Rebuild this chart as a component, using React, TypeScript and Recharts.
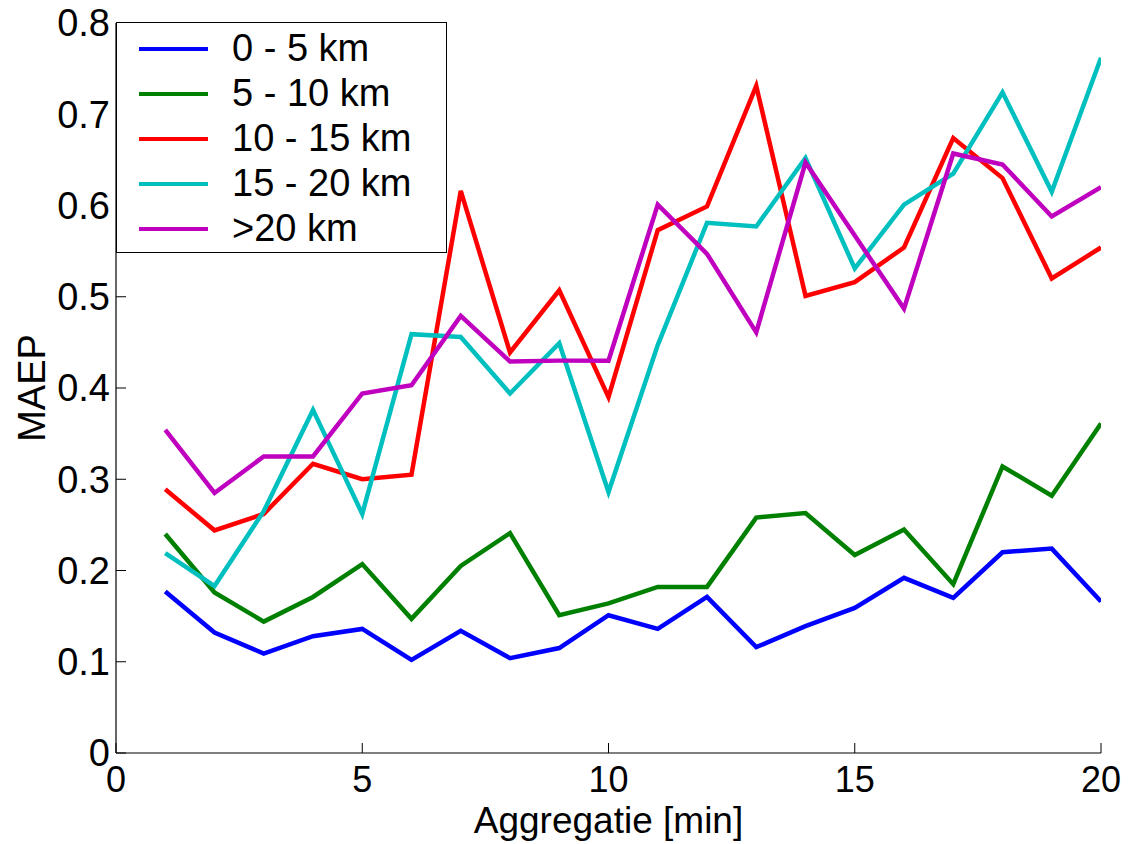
import React from 'react';
import { LineChart, Line, XAxis, YAxis, Legend } from 'recharts';

const xValues = [1, 2, 3, 4, 5, 6, 7, 8, 9, 10, 11, 12, 13, 14, 15, 16, 17, 18, 19, 20];
const km0to5 = [0.177, 0.132, 0.109, 0.128, 0.136, 0.102, 0.134, 0.104, 0.115, 0.151, 0.136, 0.171, 0.116, 0.139, 0.159, 0.192, 0.170, 0.220, 0.224, 0.166];
const km5to10 = [0.240, 0.176, 0.144, 0.171, 0.207, 0.147, 0.205, 0.241, 0.151, 0.164, 0.182, 0.182, 0.258, 0.263, 0.217, 0.245, 0.185, 0.314, 0.282, 0.361];
const km10to15 = [0.289, 0.244, 0.262, 0.317, 0.300, 0.305, 0.616, 0.439, 0.507, 0.390, 0.573, 0.599, 0.731, 0.501, 0.516, 0.554, 0.674, 0.630, 0.520, 0.554];
const km15to20 = [0.219, 0.183, 0.265, 0.376, 0.262, 0.459, 0.456, 0.394, 0.449, 0.286, 0.447, 0.581, 0.577, 0.652, 0.531, 0.601, 0.635, 0.724, 0.615, 0.762];
const kmOver20 = [0.354, 0.285, 0.325, 0.325, 0.394, 0.403, 0.479, 0.429, 0.430, 0.430, 0.601, 0.547, 0.461, 0.647, 0.567, 0.487, 0.657, 0.645, 0.588, 0.620];

const seriesNames = ['0 - 5 km', '5 - 10 km', '10 - 15 km', '15 - 20 km', '>20 km'];
const seriesColors = ['#0000ff', '#008000', '#ff0000', '#00bfbf', '#bf00bf'];
const seriesKeys = ['a', 'b', 'c', 'd', 'e'];
const seriesValues = [km0to5, km5to10, km10to15, km15to20, kmOver20];

const xTicks = [0, 5, 10, 15, 20];
const yTicks = [0, 0.1, 0.2, 0.3, 0.4, 0.5, 0.6, 0.7, 0.8];
const yTickLabels = ['0', '0.1', '0.2', '0.3', '0.4', '0.5', '0.6', '0.7', '0.8'];

const data = xValues.map((x, i) => {
  const row: Record<string, number> = { x };
  seriesKeys.forEach((k, s) => {
    row[k] = seriesValues[s][i];
  });
  return row;
});

const FONT = '"Liberation Sans", Arial, Helvetica, sans-serif';

const YLabel = (props: any) => {
  const vb = props.viewBox || { x: 0, y: 23, width: 116, height: 730 };
  const cx = vb.x + 45;
  const cy = vb.y + vb.height / 2;
  return (
    <text
      x={cx}
      y={cy}
      transform={`rotate(-90 ${cx} ${cy})`}
      textAnchor="middle"
      fill="#000"
      fontSize={38}
      fontFamily={FONT}
    >
      MAEP
    </text>
  );
};

const LegendBox = (props: any) => {
  const payload = [...(props.payload || [])].sort(
    (a: any, b: any) => seriesNames.indexOf(a.value) - seriesNames.indexOf(b.value)
  );
  return (
    <div
      style={{
        boxSizing: 'border-box',
        width: 331,
        height: 231,
        border: '1.5px solid #000',
        background: '#fff',
        paddingTop: 3,
        fontFamily: FONT,
        fontSize: 38,
        color: '#000',
      }}
    >
      {payload.map((p: any) => (
        <div key={p.value} style={{ height: 45, display: 'flex', alignItems: 'center' }}>
          <div style={{ width: 22 }} />
          <div style={{ width: 69, height: 4, background: p.color }} />
          <div style={{ width: 24 }} />
          <span style={{ lineHeight: '45px', whiteSpace: 'nowrap' }}>{p.value}</span>
        </div>
      ))}
    </div>
  );
};

export default function App() {
  return (
    <div style={{ position: 'absolute', left: 0, top: 0, width: 1128, height: 844, background: '#fff' }}>
      <LineChart
        width={1128}
        height={844}
        data={data}
        margin={{ top: 23, right: 27, bottom: 0, left: 0 }}
        style={{ fontFamily: FONT }}
      >
        <XAxis
          dataKey="x"
          type="number"
          domain={[0, 20]}
          ticks={xTicks}
          allowDataOverflow
          height={91}
          tickSize={-10}
          tickMargin={23}
          axisLine={{ stroke: '#000', strokeWidth: 1.2 }}
          tickLine={{ stroke: '#000', strokeWidth: 1 }}
          tick={{ fill: '#000', fontSize: 36, fontFamily: FONT }}
          label={{ value: 'Aggregatie [min]', position: 'insideBottom', offset: 11, fill: '#000', fontSize: 37, fontFamily: FONT }}
        />
        <XAxis
          xAxisId="top"
          orientation="top"
          dataKey="x"
          type="number"
          domain={[0, 20]}
          ticks={xTicks}
          allowDataOverflow
          height={0}
          tickSize={-10}
          tick={false}
          axisLine={{ stroke: '#000', strokeWidth: 1.2 }}
          tickLine={{ stroke: '#000', strokeWidth: 1 }}
        />
        <YAxis
          type="number"
          domain={[0, 0.8]}
          ticks={yTicks}
          allowDataOverflow
          width={116}
          tickSize={-10}
          tickMargin={16}
          interval={0}
          tickFormatter={(v: number) => yTickLabels[yTicks.indexOf(v)] ?? String(v)}
          axisLine={{ stroke: '#000', strokeWidth: 1.2 }}
          tickLine={{ stroke: '#000', strokeWidth: 1 }}
          tick={{ fill: '#000', fontSize: 38, fontFamily: FONT }}
          label={<YLabel />}
        />
        <YAxis
          yAxisId="right"
          orientation="right"
          type="number"
          domain={[0, 0.8]}
          ticks={yTicks}
          allowDataOverflow
          width={0}
          tickSize={-10}
          tick={false}
          interval={0}
          axisLine={{ stroke: '#000', strokeWidth: 1.2 }}
          tickLine={{ stroke: '#000', strokeWidth: 1 }}
        />
        <Legend
          layout="vertical"
          align="center"
          verticalAlign="middle"
          wrapperStyle={{ left: 116, top: 22, width: 331, height: 231 }}
          content={<LegendBox />}
        />
        {seriesKeys.map((k, s) => (
          <Line
            key={k}
            type="linear"
            dataKey={k}
            name={seriesNames[s]}
            stroke={seriesColors[s]}
            strokeWidth={4.5}
            dot={false}
            activeDot={false}
            isAnimationActive={false}
          />
        ))}
      </LineChart>
    </div>
  );
}
